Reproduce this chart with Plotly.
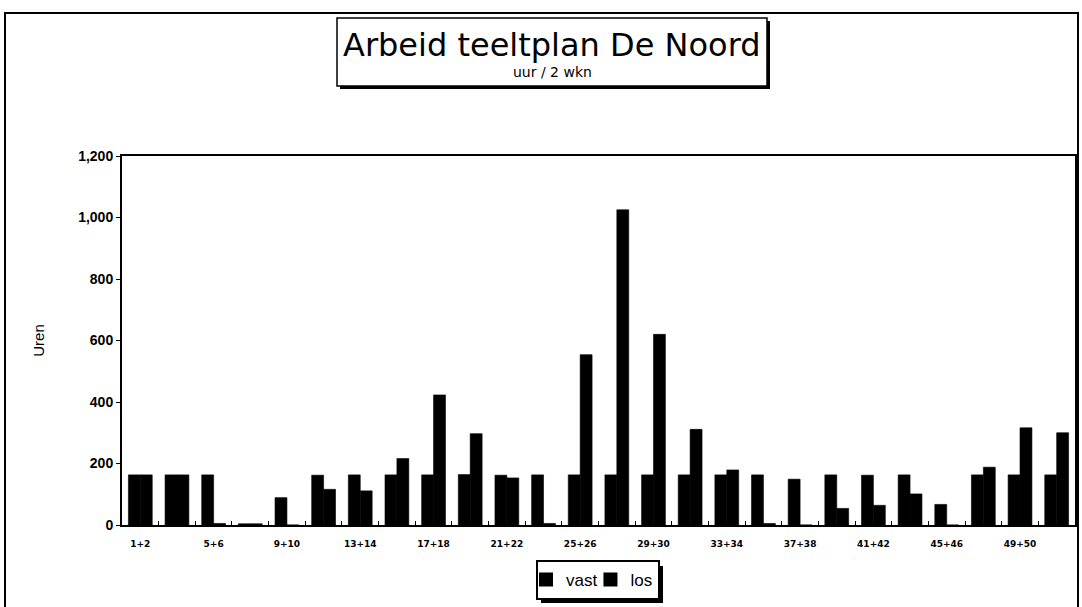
import plotly.graph_objects as go

categories = ["1+2", "3+4", "5+6", "7+8", "9+10", "11+12", "13+14", "15+16", "17+18",
              "19+20", "21+22", "23+24", "25+26", "27+28", "29+30", "31+32", "33+34",
              "35+36", "37+38", "39+40", "41+42", "43+44", "45+46", "47+48", "49+50", "51+52"]
vast = [163, 163, 163, 4, 89, 162, 163, 163, 163, 164, 162, 163, 163, 163, 163, 163, 163,
        163, 149, 163, 162, 163, 67, 163, 163, 163]
los = [163, 163, 5, 4, 0, 116, 111, 216, 423, 297, 153, 5, 554, 1025, 620, 311, 179,
       5, 0, 54, 64, 101, 0, 188, 316, 300]
tick_labels = [c if i % 2 == 0 else "" for i, c in enumerate(categories)]

W, H = 1082, 607
L, R, T, B = 122, 1075, 156, 525
pw, ph = R - L, B - T


def px(x):
    return (x - L) / pw


def py(y):
    return (B - y) / ph


fig = go.Figure()
fig.add_trace(go.Bar(name="vast", x=categories, y=vast,
                     marker=dict(color="black", line=dict(width=0.6, color="black"))))
fig.add_trace(go.Bar(name="los", x=categories, y=los,
                     marker=dict(color="black", line=dict(width=0.6, color="black"))))

shapes = [
    # outer frame
    dict(type="rect", xref="paper", yref="paper", x0=px(5), x1=px(1078), y0=py(640), y1=py(13),
         line=dict(color="black", width=2), fillcolor="rgba(0,0,0,0)", layer="below"),
    # title box shadow
    dict(type="rect", xref="paper", yref="paper", x0=px(340), x1=px(770), y0=py(89), y1=py(21),
         line=dict(color="black", width=0), fillcolor="black", layer="above"),
    # title box
    dict(type="rect", xref="paper", yref="paper", x0=px(337), x1=px(767), y0=py(86), y1=py(18),
         line=dict(color="black", width=1.5), fillcolor="white", layer="above"),
    # legend shadow
    dict(type="rect", xref="paper", yref="paper", x0=px(541), x1=px(663), y0=py(603), y1=py(566),
         line=dict(color="black", width=0), fillcolor="black", layer="above"),
]

annotations = [
    dict(text="Arbeid teeltplan De Noord", xref="paper", yref="paper", x=px(552), y=py(45),
         showarrow=False, font=dict(family="DejaVu Sans", size=32, color="black"),
         xanchor="center", yanchor="middle"),
    dict(text="uur / 2 wkn", xref="paper", yref="paper", x=px(552), y=py(72),
         showarrow=False, font=dict(family="DejaVu Sans", size=14, color="black"),
         xanchor="center", yanchor="middle"),
]

fig.update_layout(
    width=W, height=H,
    margin=dict(l=L, r=W - R, t=T, b=H - B, autoexpand=False),
    paper_bgcolor="white", plot_bgcolor="white",
    barmode="group", bargap=0.35, bargroupgap=0,
    showlegend=True,
    legend=dict(orientation="h", x=px(598), xanchor="center", y=py(580), yanchor="middle",
                bgcolor="white", bordercolor="black", borderwidth=2,
                font=dict(family="Liberation Sans", size=17, color="black"),
                itemwidth=30, entrywidth=0, tracegroupgap=0, indentation=-12,
                itemsizing="constant"),
    shapes=shapes,
    annotations=annotations,
    font=dict(family="Liberation Sans", color="black"),
)

fig.update_xaxes(
    type="category", tickmode="array", tickvals=categories, ticktext=tick_labels,
    tickson="boundaries", ticks="inside", ticklen=4, tickcolor="black", tickangle=0,
    ticklabelstandoff=9,
    tickfont=dict(family="DejaVu Sans", size=9, color="black", weight="bold"),
    showline=True, linecolor="black", linewidth=2, mirror=True, showgrid=False,
)
fig.update_yaxes(
    range=[0, 1200], dtick=200, tickformat=",", ticks="outside", ticklen=4, tickcolor="black",
    tickfont=dict(family="Liberation Sans", size=14, color="black", weight="bold"),
    title=dict(text="Uren", font=dict(family="Liberation Sans", size=15, color="black"), standoff=30),
    showline=True, linecolor="black", linewidth=2, mirror=True, showgrid=False, zeroline=False,
)

fig.write_html("out.html", post_script="document.body.style.margin='0';",
               config={"displayModeBar": False})
